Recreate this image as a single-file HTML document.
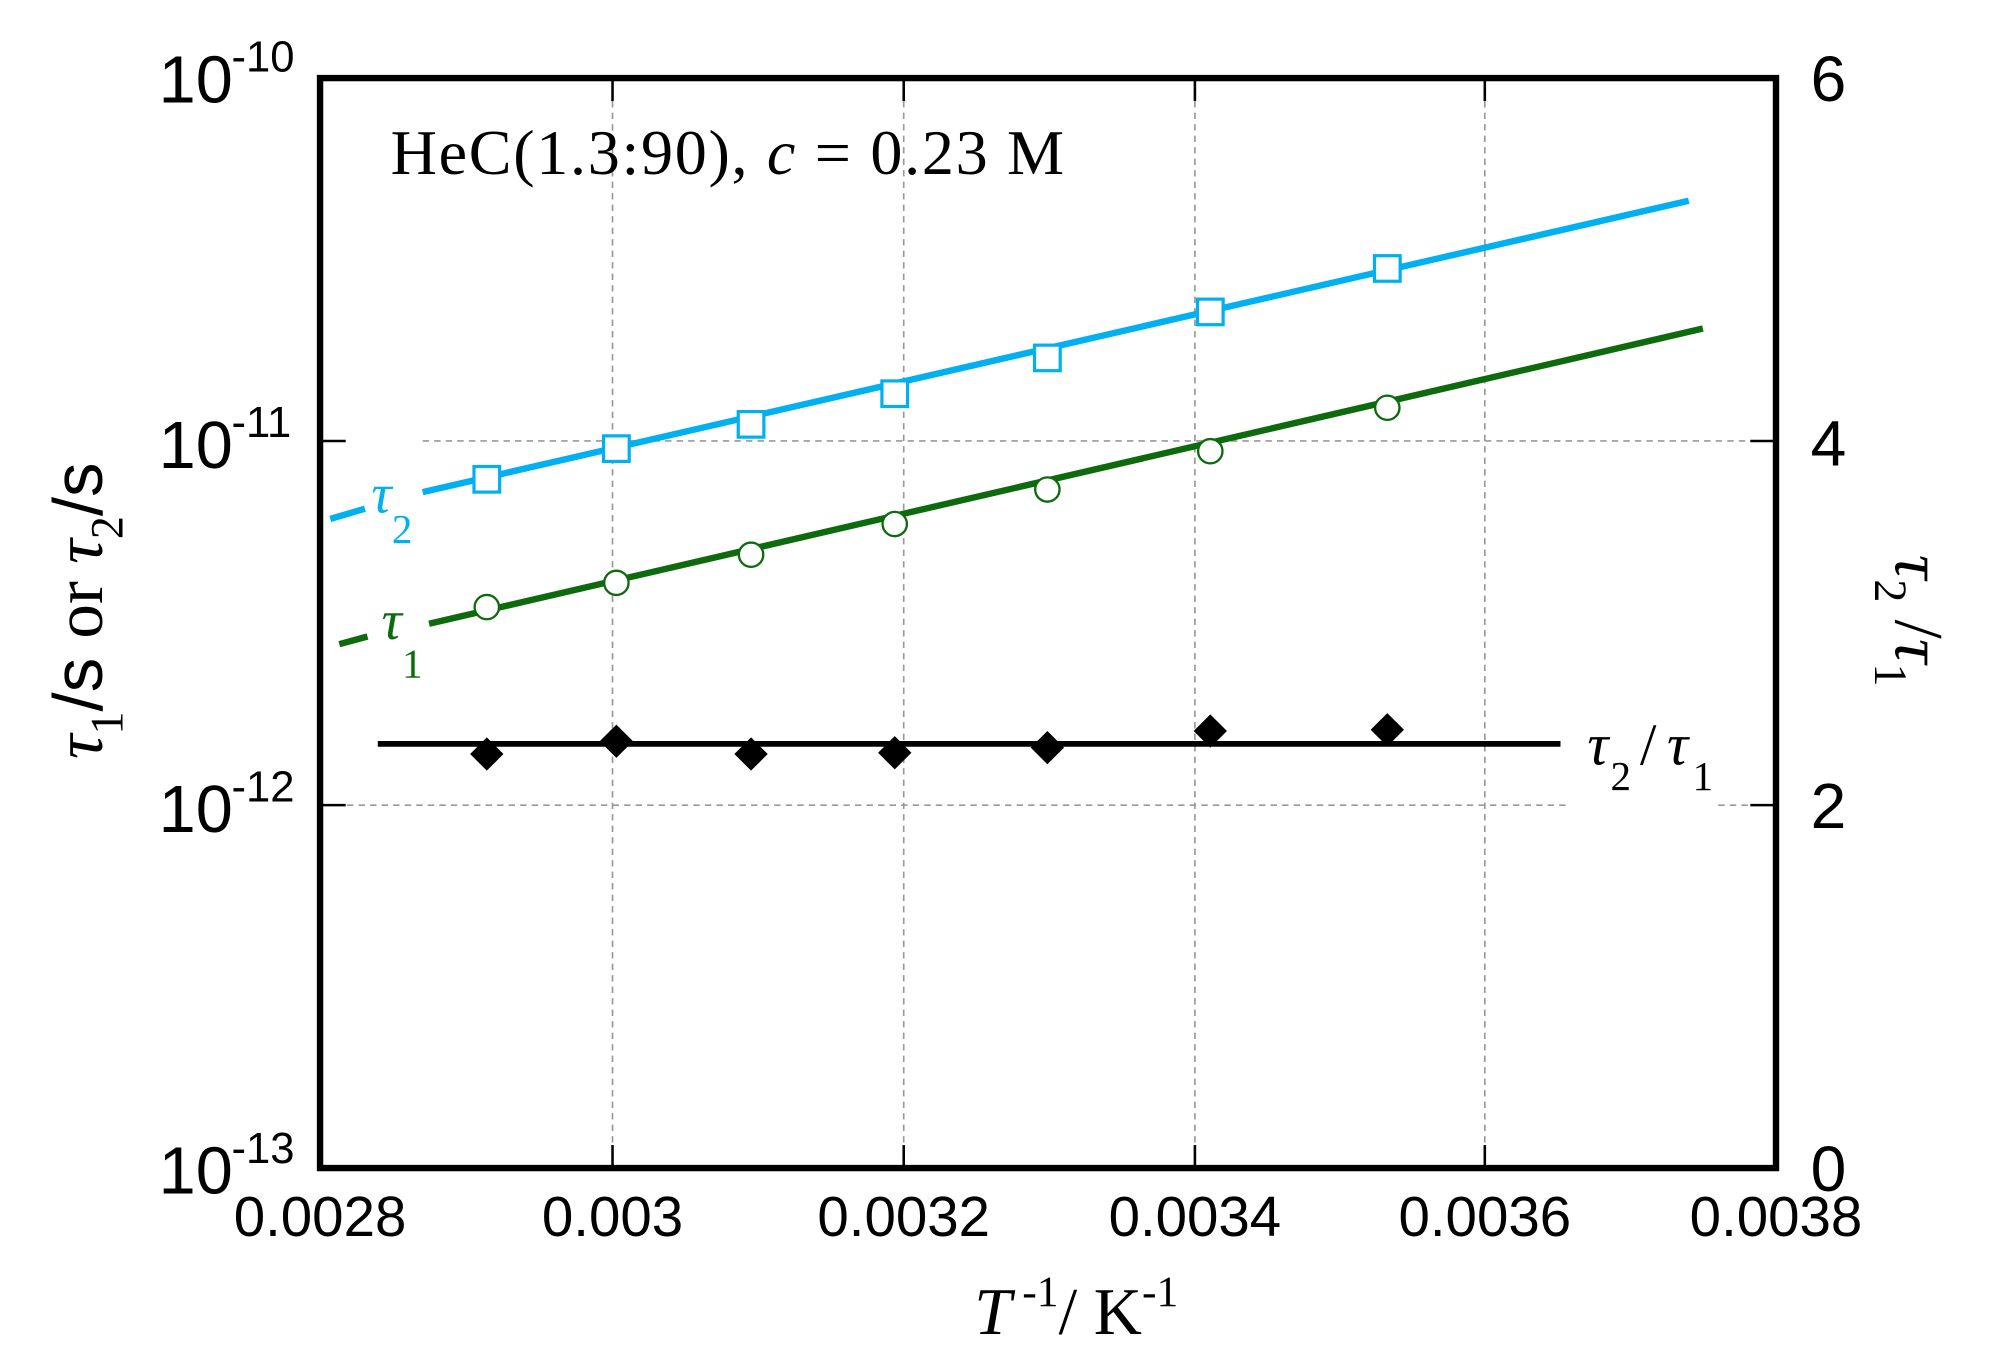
<!DOCTYPE html>
<html><head><meta charset="utf-8"><style>
html,body{margin:0;padding:0;background:#fff;}
svg{display:block;}
.s{font-family:"Liberation Sans",sans-serif;}
.r{font-family:"Liberation Serif",serif;}
</style></head><body>
<svg width="2011" height="1372" viewBox="0.5 -4.1 1567.7 1073.7" preserveAspectRatio="none" xmlns="http://www.w3.org/2000/svg">
<rect x="0" y="-10" width="1600" height="1100" fill="#fff"/>
<g stroke="#999" stroke-width="1.3" stroke-dasharray="5,4">
<line x1="478" y1="57" x2="478" y2="910"/>
<line x1="705" y1="57" x2="705" y2="910"/>
<line x1="932" y1="57" x2="932" y2="910"/>
<line x1="1158" y1="57" x2="1158" y2="910"/>
<line x1="330" y1="341" x2="1385" y2="341"/>
<line x1="262" y1="626" x2="1225" y2="626"/>
<line x1="1340" y1="626" x2="1385" y2="626"/>
</g>
<g stroke="#000" stroke-width="2">
<line x1="478" y1="57" x2="478" y2="75"/><line x1="705" y1="57" x2="705" y2="75"/><line x1="932" y1="57" x2="932" y2="75"/><line x1="1158" y1="57" x2="1158" y2="75"/>
<line x1="478" y1="910" x2="478" y2="892"/><line x1="705" y1="910" x2="705" y2="892"/><line x1="932" y1="910" x2="932" y2="892"/><line x1="1158" y1="910" x2="1158" y2="892"/>
<line x1="250" y1="341" x2="270" y2="341"/><line x1="250" y1="626" x2="270" y2="626"/>
<line x1="1385" y1="341" x2="1365" y2="341"/><line x1="1385" y1="626" x2="1365" y2="626"/>
</g>
<g stroke="#00b0f0" stroke-width="5" fill="none">
<line x1="258" y1="402" x2="285" y2="394"/>
<line x1="330" y1="381" x2="1317" y2="153"/>
</g>
<g stroke="#00b0f0" stroke-width="2.5" fill="#fff">
<rect x="370" y="361" width="20" height="20"/><rect x="471" y="337" width="20" height="20"/><rect x="576" y="318" width="20" height="20"/><rect x="688" y="294" width="20" height="20"/><rect x="807" y="266" width="20" height="20"/><rect x="934" y="230" width="20" height="20"/><rect x="1072" y="196" width="20" height="20"/>
</g>
<g stroke="#0d6a0d" stroke-width="5" fill="none">
<line x1="265" y1="500" x2="287" y2="494"/>
<line x1="335" y1="484" x2="1328" y2="253"/>
</g>
<g stroke="#0d6a0d" stroke-width="1.8" fill="#fff">
<circle cx="380" cy="471" r="9.5"/><circle cx="481" cy="452" r="9.5"/><circle cx="586" cy="430" r="9.5"/><circle cx="698" cy="406" r="9.5"/><circle cx="817" cy="379" r="9.5"/><circle cx="944" cy="349" r="9.5"/><circle cx="1082" cy="315" r="9.5"/>
</g>
<line x1="295" y1="578" x2="1217" y2="578" stroke="#000" stroke-width="4.5"/>
<g fill="#000">
<polygon points="380,573 393,586 380,599 367,586"/><polygon points="481,563 494,576 481,589 468,576"/><polygon points="586,573 599,586 586,599 573,586"/><polygon points="698,572 711,585 698,598 685,585"/><polygon points="817,568 830,581 817,594 804,581"/><polygon points="944,555 957,568 944,581 931,568"/><polygon points="1082,554 1095,567 1082,580 1069,567"/>
</g>
<rect x="250" y="57" width="1135" height="853" fill="none" stroke="#000" stroke-width="5"/>
<text class="r" x="305" y="132" font-size="50" textLength="525">HeC(1.3:90), <tspan font-style="italic">c</tspan> = 0.23 M</text>
<text class="r" x="290" y="397" font-size="44" font-style="italic" fill="#00b0f0">τ</text>
<text class="r" x="306" y="421" font-size="32" fill="#00b0f0">2</text>
<text class="r" x="298" y="496" font-size="44" font-style="italic" fill="#0d6a0d">τ</text>
<text class="r" x="314" y="526" font-size="32" fill="#0d6a0d">1</text>
<text class="r" x="1238" y="594" font-size="46" font-style="italic">τ</text>
<text class="r" x="1256" y="614" font-size="32">2</text>
<text class="r" x="1279" y="594" font-size="46">/</text>
<text class="r" x="1300" y="594" font-size="46" font-style="italic">τ</text>
<text class="r" x="1320" y="614" font-size="32">1</text>
<g class="s" font-size="52">
<text x="182" y="76" text-anchor="end">10</text><text x="181" y="52" font-size="34">-10</text>
<text x="182" y="362" text-anchor="end">10</text><text x="181" y="338" font-size="34">-11</text>
<text x="182" y="647" text-anchor="end">10</text><text x="181" y="623" font-size="34">-12</text>
<text x="182" y="930" text-anchor="end">10</text><text x="181" y="906" font-size="34">-13</text>
</g>
<g class="s" font-size="50">
<text x="1412" y="75">6</text><text x="1412" y="360">4</text><text x="1412" y="644">2</text><text x="1412" y="928">0</text>
</g>
<g class="s" font-size="44" text-anchor="middle">
<text x="250" y="963">0.0028</text><text x="478" y="963">0.003</text><text x="705" y="963">0.0032</text><text x="932" y="963">0.0034</text><text x="1158" y="963">0.0036</text><text x="1385" y="963">0.0038</text>
</g>
<text class="r" x="760" y="1040" font-size="52"><tspan font-style="italic">T</tspan><tspan font-size="34" dy="-22"> -1</tspan><tspan dy="22">/ K</tspan><tspan font-size="34" dy="-22">-1</tspan></text>
<g transform="translate(80,590) rotate(-90)">
<text class="r" x="0" y="0" font-size="54"><tspan font-style="italic">τ</tspan><tspan font-size="36" dy="16">1</tspan><tspan dy="-16" font-family="Liberation Sans">/s </tspan><tspan>or </tspan><tspan font-style="italic">τ</tspan><tspan font-size="36" dy="16">2</tspan><tspan dy="-16" font-family="Liberation Sans">/s</tspan></text>
</g>
<g transform="translate(1478,430) rotate(90)">
<text class="r" x="0" y="0" font-size="54"><tspan font-style="italic">τ</tspan><tspan font-size="36" dy="16">2</tspan><tspan dy="-16"> /</tspan><tspan font-style="italic">τ</tspan><tspan font-size="36" dy="16">1</tspan></text>
</g>
</svg>
</body></html>
